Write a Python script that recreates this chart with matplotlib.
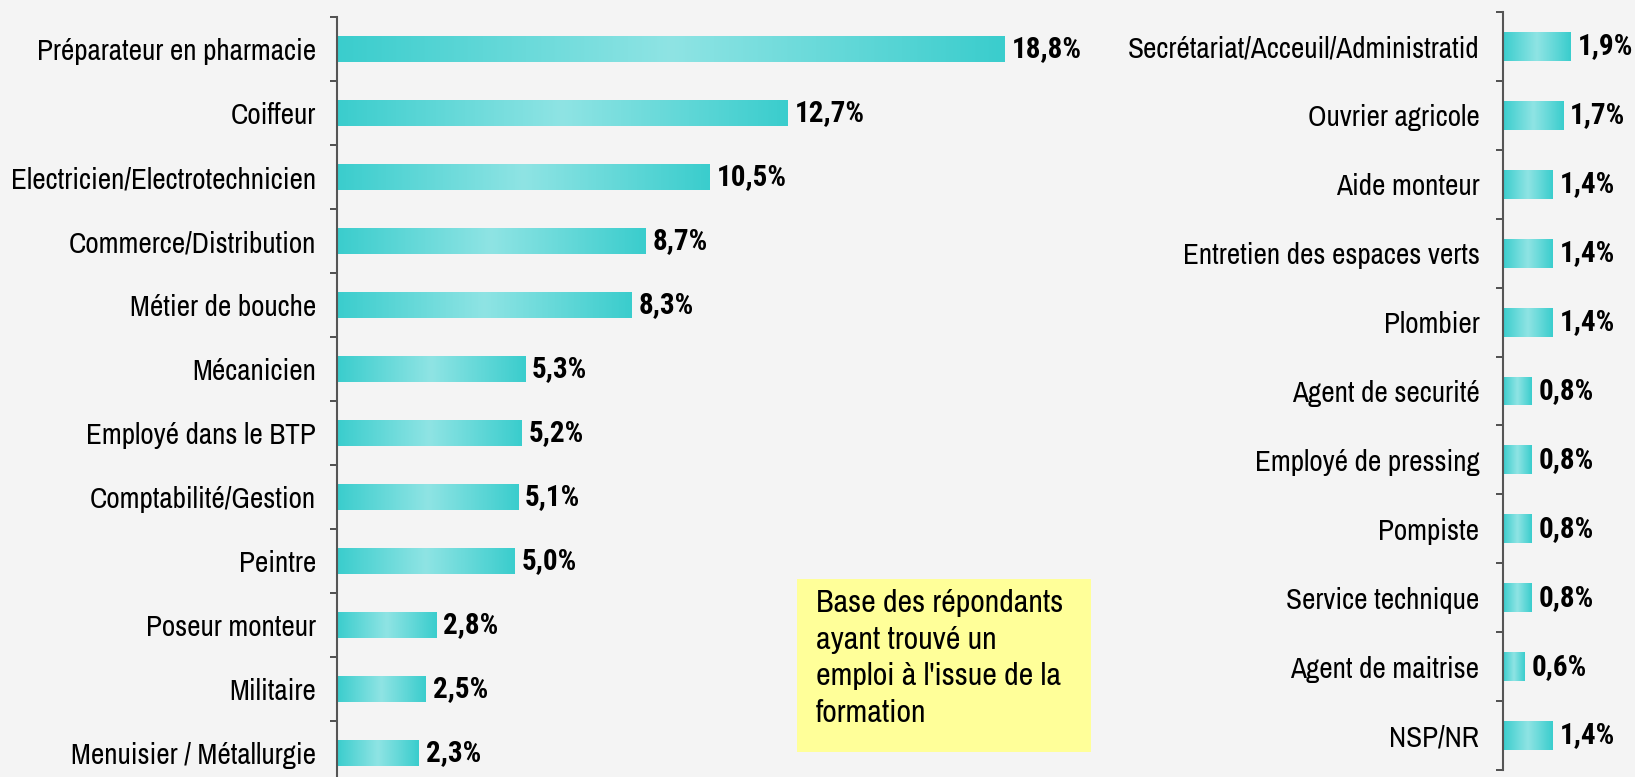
import numpy as np
import matplotlib
matplotlib.use("Agg")
import matplotlib.pyplot as plt
from matplotlib.colors import LinearSegmentedColormap
from matplotlib.patches import Rectangle

plt.rcParams["font.family"] = ["Archivo Narrow", "Roboto Condensed", "PT Sans Narrow",
                               "Liberation Sans", "DejaVu Sans"]
BOLD_FAMILY = ["Roboto Condensed", "PT Sans Narrow", "Archivo Narrow", "Liberation Sans"]

left_jobs = [
    "Préparateur en pharmacie", "Coiffeur", "Electricien/Electrotechnicien",
    "Commerce/Distribution", "Métier de bouche", "Mécanicien",
    "Employé dans le BTP", "Comptabilité/Gestion", "Peintre",
    "Poseur monteur", "Militaire", "Menuisier / Métallurgie",
]
left_pct = [18.8, 12.7, 10.5, 8.7, 8.3, 5.3, 5.2, 5.1, 5.0, 2.8, 2.5, 2.3]

right_jobs = [
    "Secrétariat/Acceuil/Administratid", "Ouvrier agricole", "Aide monteur",
    "Entretien des espaces verts", "Plombier", "Agent de securité",
    "Employé de pressing", "Pompiste", "Service technique",
    "Agent de maitrise", "NSP/NR",
]
right_pct = [1.9, 1.7, 1.4, 1.4, 1.4, 0.8, 0.8, 0.8, 0.8, 0.6, 1.4]

note = "Base des répondants\nayant trouvé un\nemploi à l'issue de la\nformation"

BG = "#f4f4f4"
cmap = LinearSegmentedColormap.from_list("teal", ["#3acdcd", "#8fe4e4", "#3acdcd"])
grad = np.linspace(0, 1, 256).reshape(1, -1)

W, H = 1635, 777
fig = plt.figure(figsize=(W / 100, H / 100), dpi=100, facecolor=BG)


def panel(rect, jobs, pct, xmax, height, pad):
    ax = fig.add_axes(rect)
    ax.set_facecolor(BG)
    n = len(jobs)
    y = np.arange(n)
    bars = ax.barh(y, pct, height=height, color="none", edgecolor="none")
    for i, (b, v) in enumerate(zip(bars, pct)):
        x0, y0 = b.get_x(), b.get_y()
        im = ax.imshow(grad, cmap=cmap, aspect="auto", interpolation="bicubic",
                       extent=[x0, x0 + b.get_width(), y0 + b.get_height(), y0])
        im.set_clip_path(b)
        ax.annotate(f"{v:.1f}%".replace(".", ","), (x0 + b.get_width(), y[i]),
                    xytext=(5, 0), textcoords="offset points", va="center",
                    ha="left", fontsize=21, fontweight="bold", family=BOLD_FAMILY)
    ax.set_xlim(0, xmax)
    ax.set_ylim(n - 0.5, -0.5)
    ax.set_yticks(y)
    ax.set_yticklabels(jobs, fontsize=21)
    ax.set_yticks(np.arange(n + 1) - 0.5, minor=True)
    ax.tick_params(axis="y", which="major", length=0, pad=pad)
    ax.tick_params(axis="y", which="minor", length=5, width=1.2, color="#333333")
    ax.set_xticks([])
    for s in ("top", "right", "bottom"):
        ax.spines[s].set_visible(False)
    ax.spines["left"].set_color("#555555")
    ax.spines["left"].set_linewidth(1.5)
    return ax


# left panel: 12 categories, 64 px each
panel([337 / W, 1 - 785 / H, 781 / W, 768 / H], left_jobs, left_pct, 22, 0.41, 15)
# right panel: 11 categories, ~69 px each
panel([1503 / W, 1 - 770 / H, 127.8 / W, 758 / H], right_jobs, right_pct, 3.6, 0.42, 17)

fig.patches.append(Rectangle((797 / W, 1 - 752 / H), 294 / W, 173 / H,
                             transform=fig.transFigure, facecolor="#ffff99",
                             edgecolor="none", zorder=0))
fig.text(816 / W, 1 - 589 / H, note, fontsize=23, va="top", ha="left",
         linespacing=1.38)

fig.savefig("out.png", dpi=100, facecolor=BG)
